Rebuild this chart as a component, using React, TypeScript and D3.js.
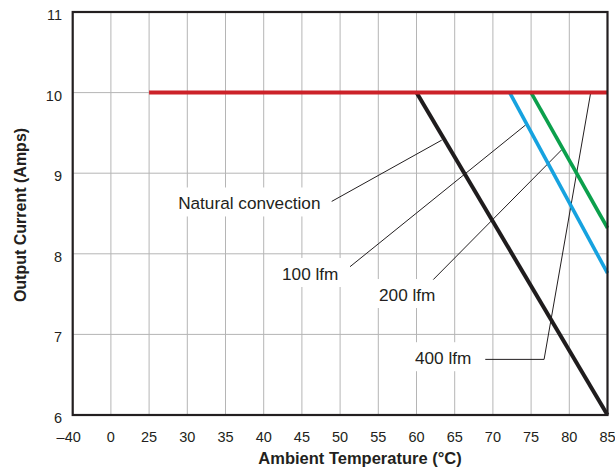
import React, { useEffect, useRef } from 'react';
import * as d3 from 'd3';

// Categorical temperature axis (equally spaced categories)
const xCategories = [-40, 0, 25, 30, 35, 40, 45, 50, 55, 60, 65, 70, 75, 80, 85];
const xTickLabels = ['–40', '0', '25', '30', '35', '40', '45', '50', '55', '60', '65', '70', '75', '80', '85'];
const yTicks = [6, 7, 8, 9, 10, 11];
const yGrid = [7, 8, 9, 10];

// Derating curves: [temperature °C, current A]
const naturalConvection: [number, number][] = [[60, 10], [85, 6]];
const lfm100: [number, number][] = [[72.2, 10], [85, 7.76]];
const lfm200: [number, number][] = [[75, 10], [85, 8.32]];
const lfm400: [number, number][] = [[25, 10], [85, 10]];

const seriesNames = ['Natural convection', '100 lfm', '200 lfm', '400 lfm'];
const seriesData = [naturalConvection, lfm100, lfm200, lfm400];
const seriesColors = ['#1f1c1d', '#16a2df', '#0ba04c', '#cc2229'];
const seriesWidths = [4, 3.6, 3.6, 4];

// Callout labels: text anchor point (temp, current) and leader line points
const labelPos: [number, number][] = [[28.8, 8.55], [42.4, 7.675], [55.1, 7.414], [59.8, 6.63]];
const leaders: [number, number][][] = [
  [[48.9, 8.65], [63.3, 9.41]],
  [[51.3, 7.84], [74.3, 9.6]],
  [[62.2, 7.68], [79.0, 9.29]],
  [[69.0, 6.69], [76.7, 6.69], [82.8, 10]],
];

const W = 615;
const H = 471;
const left = 72.7;
const right = 607.5;
const top = 12;
const bottom = 415;
const FONT = '"Liberation Sans", Arial, Helvetica, sans-serif';

export default function App() {
  const ref = useRef<SVGSVGElement | null>(null);

  useEffect(() => {
    const svg = d3.select(ref.current);
    svg.selectAll('*').remove();

    const step = (right - left) / (xCategories.length - 1);
    const x = d3
      .scaleLinear()
      .domain(xCategories)
      .range(xCategories.map((_, i) => left + i * step));
    const y = d3.scaleLinear().domain([6, 11]).range([bottom, top]);

    const g = svg.append('g');

    // grid
    g.selectAll('line.vg')
      .data(xCategories)
      .join('line')
      .attr('x1', (d) => x(d))
      .attr('x2', (d) => x(d))
      .attr('y1', top)
      .attr('y2', bottom)
      .attr('stroke', '#b5b5b5')
      .attr('stroke-width', 1);
    g.selectAll('line.hg')
      .data(yGrid)
      .join('line')
      .attr('x1', left)
      .attr('x2', right)
      .attr('y1', (d) => y(d))
      .attr('y2', (d) => y(d))
      .attr('stroke', '#b5b5b5')
      .attr('stroke-width', 1);

    // labels with white boxes
    const labelG = svg.append('g');
    seriesNames.forEach((name, i) => {
      const [tx, ty] = labelPos[i];
      const px = x(tx);
      const py = y(ty);
      const rect = labelG.append('rect').attr('fill', '#fff');
      const t = labelG
        .append('text')
        .attr('x', px)
        .attr('y', py)
        .attr('font-family', FONT)
        .attr('font-size', 17.2)
        .attr('fill', '#231f20')
        .text(name);
      const w = (t.node() as SVGTextElement).getComputedTextLength();
      rect
        .attr('x', px - 6)
        .attr('y', py - 22)
        .attr('width', w + 12)
        .attr('height', 29);
    });

    // leader lines
    const line = d3
      .line<[number, number]>()
      .x((d) => x(d[0]))
      .y((d) => y(d[1]));
    svg
      .append('g')
      .selectAll('path')
      .data(leaders)
      .join('path')
      .attr('d', (d) => line(d))
      .attr('fill', 'none')
      .attr('stroke', '#231f20')
      .attr('stroke-width', 1);

    // curves
    svg
      .append('g')
      .selectAll('path')
      .data(seriesData)
      .join('path')
      .attr('d', (d) => line(d))
      .attr('fill', 'none')
      .attr('stroke', (_, i) => seriesColors[i])
      .attr('stroke-width', (_, i) => seriesWidths[i]);

    // frame
    svg
      .append('rect')
      .attr('x', left)
      .attr('y', top)
      .attr('width', right - left)
      .attr('height', bottom - top)
      .attr('fill', 'none')
      .attr('stroke', '#231f20')
      .attr('stroke-width', 2.2);

    // x tick labels (digits centred on the gridline, dash hanging left)
    svg
      .append('g')
      .selectAll('text')
      .data(xCategories)
      .join('text')
      .attr('x', (d) => x(d))
      .attr('dx', (_, i) => (xTickLabels[i].startsWith('–') ? -4 : 0))
      .attr('y', 442)
      .attr('text-anchor', 'middle')
      .attr('font-family', FONT)
      .attr('font-size', 14.5)
      .attr('fill', '#231f20')
      .text((_, i) => xTickLabels[i]);

    // y tick labels
    svg
      .append('g')
      .selectAll('text')
      .data(yTicks)
      .join('text')
      .attr('x', 62)
      .attr('y', (d) => y(d) + 8)
      .attr('text-anchor', 'end')
      .attr('font-family', FONT)
      .attr('font-size', 14.5)
      .attr('fill', '#231f20')
      .text((d) => String(d));

    // axis titles
    svg
      .append('text')
      .attr('x', 360)
      .attr('y', 464)
      .attr('text-anchor', 'middle')
      .attr('font-family', FONT)
      .attr('font-size', 16.5)
      .attr('font-weight', 'bold')
      .attr('fill', '#231f20')
      .text('Ambient Temperature (°C)');
    svg
      .append('text')
      .attr('transform', `translate(26,215) rotate(-90)`)
      .attr('text-anchor', 'middle')
      .attr('font-family', FONT)
      .attr('font-size', 16)
      .attr('font-weight', 'bold')
      .attr('fill', '#231f20')
      .text('Output Current (Amps)');
  }, []);

  return (
    <svg
      ref={ref}
      width={W}
      height={H}
      style={{ position: 'absolute', left: 0, top: 0, background: '#fff' }}
    />
  );
}
